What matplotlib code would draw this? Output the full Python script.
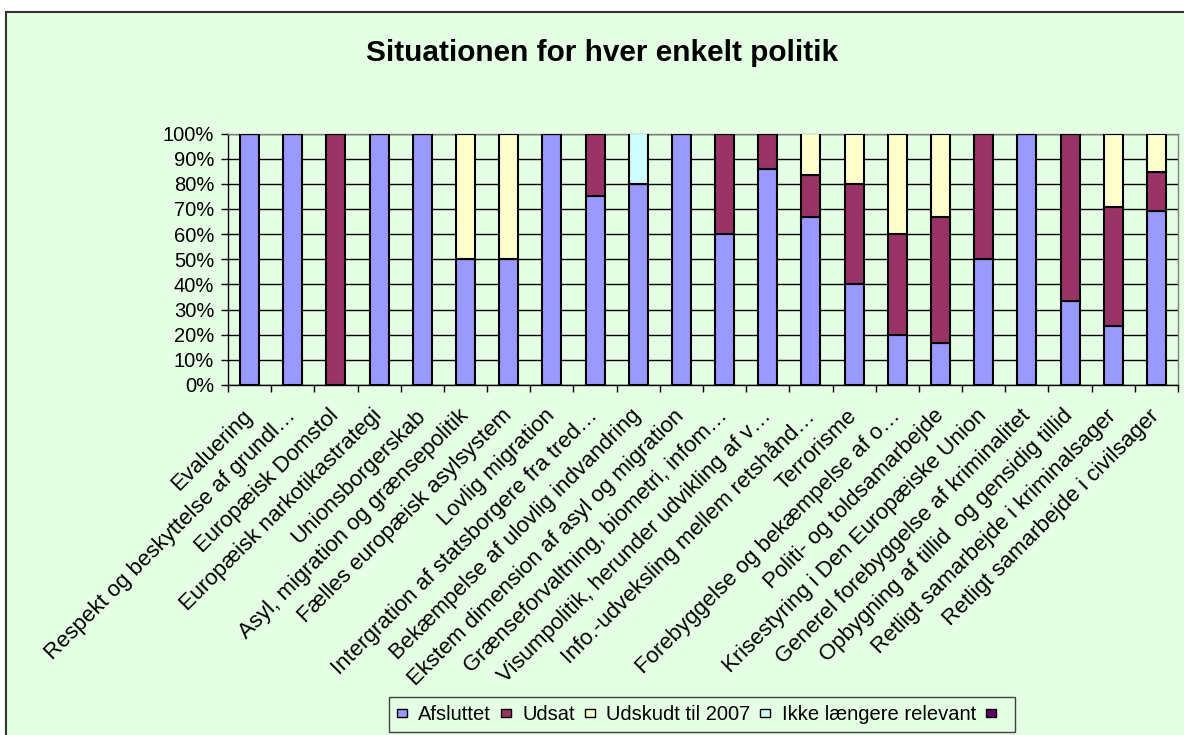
import numpy as np
import matplotlib
matplotlib.use("Agg")
import matplotlib.pyplot as plt
from matplotlib.patches import Patch, Rectangle

plt.rcParams["font.family"] = ["Liberation Sans", "DejaVu Sans"]

categories = [
    "Evaluering",
    "Respekt og beskyttelse af grundl…",
    "Europæisk Domstol",
    "Europæisk narkotikastrategi",
    "Unionsborgerskab",
    "Asyl, migration og grænsepolitik",
    "Fælles europæisk asylsystem",
    "Lovlig migration",
    "Intergration af statsborgere fra tred…",
    "Bekæmpelse af ulovlig indvandring",
    "Ekstem dimension af asyl og migration",
    "Grænseforvaltning, biometri, infom…",
    "Visumpolitik, herunder udvikling af v…",
    "Info.-udveksling mellem retshånd…",
    "Terrorisme",
    "Forebyggelse og bekæmpelse af o…",
    "Politi- og toldsamarbejde",
    "Krisestyring i Den Europæiske Union",
    "Generel forebyggelse af kriminalitet",
    "Opbygning af tillid  og gensidig tillid",
    "Retligt samarbejde i kriminalsager",
    "Retligt samarbejde i civilsager",
]

# shares in percent
afsluttet = [100, 100, 0, 100, 100, 50, 50, 100, 75, 80, 100, 60, 85.7, 66.7,
             40, 20, 16.7, 50, 100, 33.3, 23.5, 69.2]
udsat = [0, 0, 100, 0, 0, 0, 0, 0, 25, 0, 0, 40, 14.3, 16.7,
         40, 40, 50, 50, 0, 66.7, 47.1, 15.4]
udskudt = [0, 0, 0, 0, 0, 50, 50, 0, 0, 0, 0, 0, 0, 16.7,
           20, 40, 33.3, 0, 0, 0, 29.4, 15.4]
ikke_relevant = [0, 0, 0, 0, 0, 0, 0, 0, 0, 20, 0, 0, 0, 0,
                 0, 0, 0, 0, 0, 0, 0, 0]

series_names = ["Afsluttet", "Udsat", "Udskudt til 2007", "Ikke længere relevant", ""]
series_colors = ["#9999FF", "#993366", "#FFFFCC", "#CCFFFF", "#660066"]
yticks = [0, 10, 20, 30, 40, 50, 60, 70, 80, 90, 100]

bg = "#E5FFE5"
W, H = 1184, 735

fig = plt.figure(figsize=(W / 100, H / 100), dpi=100, facecolor="white")
# chart area frame (cropped at right and bottom like the original)
fig.patches.append(Rectangle((6 / W, -0.1), 1.2, 1 - 12 / H + 0.1,
                             transform=fig.transFigure, facecolor=bg,
                             edgecolor="#333333", lw=1.5, zorder=-10))

ax = fig.add_axes([228 / W, 1 - 385 / H, (1178 - 228) / W, (385 - 133.5) / H])
ax.set_facecolor(bg)
ax.set_zorder(1)

x = np.arange(len(categories))
bottom = np.zeros(len(categories))
for vals, col in zip([afsluttet, udsat, udskudt, ikke_relevant], series_colors):
    vals = np.array(vals, dtype=float)
    ax.bar(x, vals, width=0.44, bottom=bottom, color=col,
           edgecolor="black", linewidth=1.5, zorder=3)
    bottom += vals

ax.set_xlim(-0.5, len(categories) - 0.5)
ax.set_ylim(0, 100)
ax.set_yticks(yticks, [f"{v}%" for v in yticks])
ax.yaxis.grid(True, color="black", lw=1, zorder=0)
ax.set_axisbelow(True)

ax.set_xticks(np.arange(len(categories) + 1) - 0.5, [""] * (len(categories) + 1))
ax.set_xticks(x, categories, minor=True, rotation=45, ha="right",
              va="center", rotation_mode="anchor")
ax.tick_params(axis="x", which="major", length=5, width=1, direction="out")
ax.tick_params(axis="x", which="minor", length=0, pad=20, labelsize=16)
ax.tick_params(axis="y", length=5, width=1, pad=5, labelsize=14.5)

for s in ["top", "right"]:
    ax.spines[s].set_color("#808080")
    ax.spines[s].set_linewidth(1)
for s in ["left", "bottom"]:
    ax.spines[s].set_color("black")
    ax.spines[s].set_linewidth(1)

fig.text(602 / W, 1 - 53 / H, "Situationen for hver enkelt politik",
         ha="center", va="center", fontsize=21.4, fontweight="bold")

handles = [Patch(facecolor=c, edgecolor="black", lw=1) for c in series_colors]
leg = fig.legend(handles, series_names, loc="center", ncol=5,
                 bbox_to_anchor=(702 / W, 1 - 714.5 / H), fontsize=14.5,
                 handlelength=0.5, handleheight=0.25, handletextpad=0.55,
                 columnspacing=0.5, borderpad=0.4, fancybox=False,
                 framealpha=1, facecolor=bg, edgecolor="#404040")
leg.get_frame().set_linewidth(1)

fig.savefig("out.png", dpi=100, facecolor="white")
